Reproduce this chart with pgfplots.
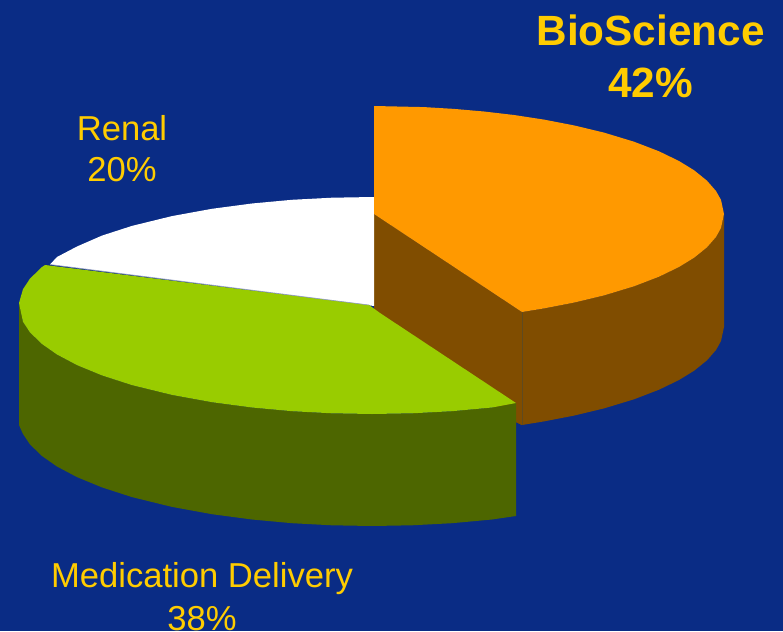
\documentclass[border=0pt]{standalone}
\usepackage{fontspec}
\setmainfont{Liberation Sans}
\usepackage{pgfplots}
\pgfplotsset{compat=1.18}
\definecolor{bgblue}{HTML}{0A2C85}
\definecolor{oran}{HTML}{FF9900}
\definecolor{brwn}{HTML}{804D00}
\definecolor{lime}{HTML}{99CC00}
\definecolor{dgrn}{HTML}{4D6600}
\definecolor{txt}{HTML}{FFCC00}
\begin{document}
\begin{tikzpicture}
\begin{axis}[
  scale only axis, width=783pt, height=631pt,
  xmin=0, xmax=783, ymin=0, ymax=631, y dir=reverse,
  hide axis, clip=true, clip mode=individual,
  every axis plot/.append style={line width=0pt},
]
% background
\addplot[fill=bgblue,draw=none] coordinates {(0,0)(783,0)(783,631)(0,631)} --cycle;
% BioScience outer wall
\addplot[fill=brwn,draw=none] coordinates {
(724,214)(724,327)(721,341)(716,350)(707,360.3)(694,370.8)(679,380)(659,389.7)(634,399.3)(604,408.4)(574,415.6)(544,421.4)(522,425)(516,422)
(516,400)(522,312)(544,308.4)(574,302.6)(604,295.4)(634,286.3)(659,276.7)(679,267)(694,257.8)(707,247.3)(716,237)(721,228)} --cycle;
% BioScience cut face
\addplot[fill=brwn,draw=none] coordinates {(374,214)(522,312)(522,425)(516,422)(374,330)} --cycle;
\addplot[draw={rgb,255:red,95;green,74;blue,32},line width=0.7pt] coordinates {(522,312)(522,425)};
% Renal top
\addplot[fill=white,draw=none] coordinates {
(374,197)(332,197.7)(292,199.8)(252,203.5)(212,208.8)(172,216.1)(132,225.9)(102,235.6)(77,246.5)(57,257)(50,264.5)(374,306)} --cycle;
% Medication wall
\addplot[fill=dgrn,draw=none] coordinates {
(19,302)(19,425)(23,434)(30,444.4)(42,456)(57,466.5)(77,477.1)(102,487.4)(132,497.1)(172,506.9)(212,514.2)(252,519.5)(292,523.2)(332,525.3)(372,526)(412,525.3)(452,523.2)(492,519.5)(516,516)
(516,403)(492,407.5)(452,411.2)(412,413.3)(372,414)(332,413.3)(292,411.2)(252,407.5)(212,402.2)(172,394.9)(132,385.1)(102,375.4)(77,365.1)(57,354.5)(42,344)(30,332.4)(23,321.8)} --cycle;
% Medication top
\addplot[fill=lime,draw=none] coordinates {
(45,265)(42,267)(30,278.6)(23,289.2)(19,303)(23,321.8)(30,332.4)(42,344)(57,354.5)(77,365.1)(102,375.4)(132,385.1)(172,394.9)(212,402.2)(252,407.5)(292,411.2)(332,413.3)(372,414)(412,413.3)(452,411.2)(492,407.5)(516,403)
(380,313)(369,305)} --cycle;
\addplot[draw={rgb,255:red,143;green,154;blue,192},line width=0.6pt] coordinates {(50,264.5)(369,305)};
% BioScience top
\addplot[fill=oran,draw=none] coordinates {
(374,106)(424,107.1)(454,108.9)(484,111.5)(514,115)(544,119.6)(574,125.4)(604,132.6)(634,141.7)(659,151.3)(679,161)(694,170.2)(707,180.7)(716,191)(721,199.9)(724,214)(721,228)(716,237)(707,247.3)(694,257.8)(679,267)(659,276.7)(634,286.3)(604,295.4)(574,302.6)(544,308.4)(522,312)(374,214)} --cycle;
% labels
\node[anchor=base,text=txt,font=\bfseries\fontsize{42.3}{48}\selectfont] at (axis cs:650.5,46) {BioScience};
\node[anchor=base,text=txt,font=\bfseries\fontsize{42.3}{48}\selectfont] at (axis cs:650.5,97.5) {42\%};
\node[anchor=base,text=txt,font=\fontsize{34.6}{40}\selectfont] at (axis cs:122,141) {Renal};
\node[anchor=base,text=txt,font=\fontsize{34.6}{40}\selectfont] at (axis cs:122,181.5) {20\%};
\node[anchor=base,text=txt,font=\fontsize{34.6}{40}\selectfont] at (axis cs:202,587.5) {Medication Delivery};
\node[anchor=base,text=txt,font=\fontsize{34.6}{40}\selectfont,inner sep=0pt] at (axis cs:202,630) {38\%};
\end{axis}
\end{tikzpicture}
\end{document}
